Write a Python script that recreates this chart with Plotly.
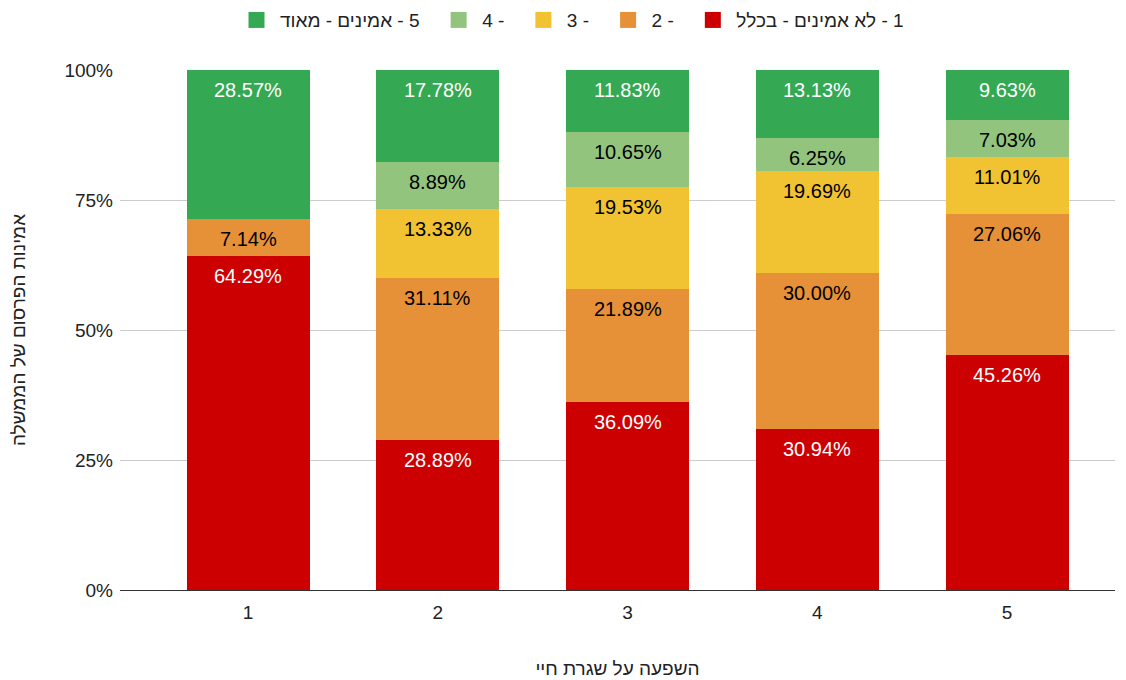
import plotly.graph_objects as go

categories = [1, 2, 3, 4, 5]
series_names = [
    "\u202b1 - לא אמינים - בכלל\u202c",
    "2 -",
    "3 -",
    "4 -",
    "\u202b5 - אמינים - מאוד\u202c",
]
v1 = [64.29, 28.89, 36.09, 30.94, 45.26]
v2 = [7.14, 31.11, 21.89, 30.00, 27.06]
v3 = [0.0, 13.33, 19.53, 19.69, 11.01]
v4 = [0.0, 8.89, 10.65, 6.25, 7.03]
v5 = [28.57, 17.78, 11.83, 13.13, 9.63]
series_values = [v1, v2, v3, v4, v5]
colors = ["#cc0000", "#e69138", "#f1c232", "#93c47d", "#34a853"]
text_colors = ["#ffffff", "#000000", "#000000", "#000000", "#ffffff"]
y_ticks = [0, 25, 50, 75, 100]
Y_MAX = 100

FONT = "Liberation Sans, Arial"

fig = go.Figure()
cum = [0.0] * len(categories)
annotations = []
for name, vals, col, tcol in zip(series_names, series_values, colors, text_colors):
    fig.add_trace(go.Bar(
        x=categories, y=vals, name=name, showlegend=False,
        marker=dict(color=col, line=dict(width=0)),
        width=0.648, hoverinfo="skip",
    ))
    cum = [c + v for c, v in zip(cum, vals)]
    for xc, top, v in zip(categories, cum, vals):
        if v > 0:
            annotations.append(dict(
                x=xc, y=min(top, Y_MAX), xref="x", yref="y", text=f"{v:.2f}%",
                showarrow=False, yanchor="middle", xanchor="center", yshift=-20,
                font=dict(color=tcol, size=20, family=FONT),
            ))

# legend entries (square swatches)
for i, (name, col) in enumerate(zip(series_names, colors)):
    pad = "" if i == 0 else "\u00a0\u00a0"
    fig.add_trace(go.Scatter(
        x=[None], y=[None], mode="markers", name=name + pad,
        marker=dict(symbol="square", size=18, color=col),
        hoverinfo="skip",
    ))

fig.update_layout(
    barmode="stack",
    width=1126, height=680,
    margin=dict(l=112, r=19, t=62, b=98, autoexpand=False),
    paper_bgcolor="white", plot_bgcolor="white",
    font=dict(family=FONT, size=16, color="#222222"),
    showlegend=True,
    annotations=annotations,
    legend=dict(orientation="h", traceorder="reversed", x=0.5, xref="container",
                xanchor="center", y=1.096, yanchor="middle",
                font=dict(size=19, color="#222222"),
                itemwidth=37, itemsizing="trace"),
    xaxis=dict(range=[0.325, 5.569], tickmode="array", tickvals=categories,
               ticktext=[str(c) for c in categories], showgrid=False,
               tickfont=dict(size=19, color="#222222"), ticks="", ticklabelstandoff=9,
               title=dict(text="השפעה על שגרת חיי", font=dict(size=19, color="#222222"), standoff=39),
               zeroline=False, showline=False),
    yaxis=dict(range=[0, Y_MAX], tickmode="array", tickvals=y_ticks,
               ticktext=[f"{t}%" for t in y_ticks],
               showgrid=True, gridcolor="#cccccc", gridwidth=1,
               zeroline=True, zerolinecolor="#333333", zerolinewidth=1,
               tickfont=dict(size=19, color="#222222"), ticks="", ticklabelstandoff=6,
               title=dict(text="אמינות הפרסום של הממשלה", font=dict(size=19, color="#222222"), standoff=33)),
)

fig.write_html("out.html")
